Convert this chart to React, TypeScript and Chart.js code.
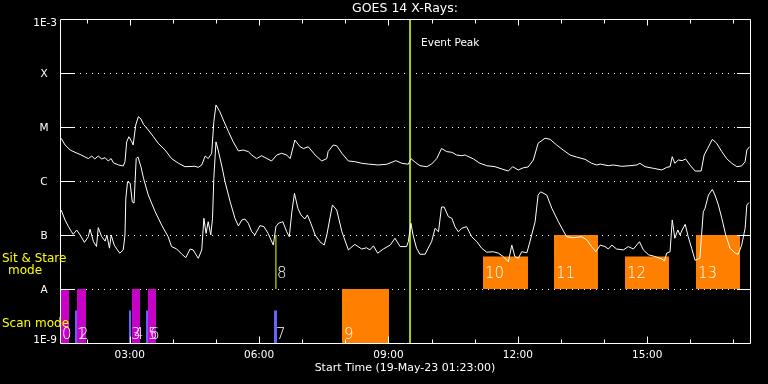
import React, { useEffect, useRef } from "react";
import { Chart, registerables } from "chart.js";

Chart.register(...registerables);

// ---------- axis definitions ----------
const START_HOUR = 1 + 23 / 60; // 01:23:00
const END_HOUR = START_HOUR + 16;
const yTickValues = [1e-9, 1e-8, 1e-7, 1e-6, 1e-5, 1e-4, 1e-3];
const yTickLabels = ["1E-9", "A", "B", "C", "M", "X", "1E-3"];
const xMajorHours = [3, 6, 9, 12, 15];
const xTickLabels = ["03:00", "06:00", "09:00", "12:00", "15:00"];
const titleText = "GOES 14 X-Rays:";
const xAxisTitle = "Start Time (19-May-23 01:23:00)";
const eventPeakHour = 9.5;
const eventPeakLabel = "Event Peak";

// ---------- GOES long channel (1-8 Å) ----------
const longTimes = [
  1.41, 1.5, 1.62, 1.73, 1.85, 1.96, 2.04, 2.12, 2.19, 2.27,
  2.35, 2.43, 2.5, 2.57, 2.62, 2.74, 2.85, 2.89, 2.93, 2.98,
  3.05, 3.08, 3.14, 3.2, 3.26, 3.32, 3.43, 3.55, 3.66, 3.82,
  3.97, 4.13, 4.28, 4.51,
  4.59, 4.67, 4.75, 4.82, 4.9, 4.95, 5.0, 5.09, 5.17, 5.29,
  5.4, 5.52, 5.63, 5.75, 5.83, 5.94, 6.06, 6.18, 6.29, 6.41,
  6.52, 6.64, 6.72, 6.83, 6.95, 7.03, 7.14, 7.3, 7.45, 7.57,
  7.6, 7.72, 7.8, 7.92, 8.07, 8.22, 8.38, 8.53, 8.76, 8.96,
  9.17, 9.31, 9.46, 9.52, 9.62, 9.73, 9.89, 10.0, 10.12, 10.23,
  10.35, 10.47, 10.58, 10.7, 10.77,
  10.81, 10.97, 11.12, 11.28, 11.47, 11.63, 11.78, 11.88, 12.01, 12.13,
  12.24, 12.36, 12.47, 12.63, 12.75, 12.9, 13.05, 13.21, 13.36, 13.56,
  13.71, 13.83, 13.91,
  14.1, 14.21, 14.41, 14.6, 14.76, 14.83, 14.95, 15.14, 15.34, 15.45,
  15.53, 15.58, 15.64, 15.72, 15.81, 15.89, 15.99, 16.11, 16.25, 16.32,
  16.4, 16.51, 16.61, 16.73, 16.84, 16.96, 17.08, 17.19, 17.27, 17.31,
  17.37,
];
const longFlux = [
  6.2e-6, 4.64e-6, 3.75e-6, 3.4e-6, 3.1e-6, 2.8e-6, 2.6e-6, 2.9e-6, 2.56e-6, 2.9e-6,
  2.56e-6, 2.7e-6, 2.35e-6, 2.6e-6, 2.18e-6, 1.98e-6, 1.9e-6, 2.28e-6, 5.3e-6, 6.6e-6,
  5.3e-6, 4.64e-6, 1.09e-5, 1.55e-5, 1.41e-5, 1.12e-5, 8.8e-6, 6.6e-6, 5.0e-6, 3.75e-6,
  2.6e-6, 2.13e-6, 1.84e-6, 1.87e-6,
  1.79e-6, 1.98e-6, 2.9e-6, 2.6e-6, 3.26e-6, 1.25e-5, 2.56e-5, 1.92e-5, 1.35e-5, 8.2e-6,
  5.3e-6, 3.6e-6, 3.75e-6, 3.5e-6, 3.03e-6, 2.6e-6, 2.94e-6, 2.6e-6, 2.35e-6, 3.03e-6,
  3.26e-6, 3.03e-6, 2.6e-6, 5.74e-6, 4.3e-6, 4.0e-6, 4.3e-6, 3.03e-6, 2.35e-6, 2.6e-6,
  3.5e-6, 4.64e-6, 4.5e-6, 3.26e-6, 2.35e-6, 2.28e-6, 2.13e-6, 2.06e-6, 1.98e-6, 2.04e-6,
  2.38e-6, 2.13e-6, 2.04e-6, 2.6e-6, 2.22e-6, 1.92e-6, 1.84e-6, 2.06e-6, 2.6e-6, 4.0e-6,
  3.5e-6, 3.4e-6, 3.03e-6, 2.94e-6, 3.03e-6,
  2.94e-6, 2.56e-6, 2.13e-6, 1.92e-6, 1.84e-6, 1.67e-6, 1.53e-6, 1.84e-6, 1.6e-6, 1.76e-6,
  1.82e-6, 2.45e-6, 5.0e-6, 6.2e-6, 5.9e-6, 4.64e-6, 3.75e-6, 3.03e-6, 2.78e-6, 2.52e-6,
  2.13e-6, 1.98e-6, 2.06e-6,
  1.92e-6, 1.98e-6, 1.87e-6, 1.92e-6, 1.98e-6, 2.13e-6, 1.84e-6, 1.72e-6, 1.6e-6, 1.79e-6,
  1.84e-6, 2.82e-6, 2.13e-6, 2.45e-6, 2.38e-6, 2.56e-6, 1.98e-6, 1.53e-6, 1.53e-6, 3.03e-6,
  4.0e-6, 5.9e-6, 5.0e-6, 3.5e-6, 2.6e-6, 2.13e-6, 1.84e-6, 1.9e-6, 2.28e-6, 3.75e-6,
  4.3e-6,
];

// ---------- GOES short channel (0.5-4 Å) ----------
const shortTimes = [
  1.41, 1.5, 1.58, 1.65, 1.69, 1.77, 1.85, 1.95, 2.04, 2.08,
  2.16, 2.23, 2.27, 2.35, 2.43, 2.47, 2.53, 2.57, 2.64, 2.7,
  2.77, 2.85, 2.89, 2.91, 2.95, 3.01, 3.06, 3.1, 3.15, 3.19,
  3.26, 3.32, 3.43, 3.59, 3.74, 3.89, 3.97, 4.09, 4.21, 4.3,
  4.4, 4.47, 4.59, 4.67, 4.72, 4.77, 4.82, 4.88, 4.92, 4.95,
  5.0, 5.05, 5.13, 5.21, 5.33, 5.44, 5.52, 5.6, 5.67, 5.75,
  5.83, 5.9, 6.02, 6.11, 6.21, 6.33, 6.39, 6.45, 6.55, 6.64,
  6.7, 6.76, 6.82, 6.9, 6.97, 7.06, 7.12, 7.2, 7.3, 7.41,
  7.51, 7.57,
  7.7, 7.8, 7.92, 8.07, 8.22, 8.38, 8.49, 8.57, 8.65, 8.75,
  8.88, 9.04, 9.15, 9.27, 9.42, 9.46, 9.52, 9.57, 9.65, 9.73,
  9.85, 9.92, 10.0, 10.08, 10.16, 10.23, 10.29, 10.39, 10.47, 10.54,
  10.62, 10.7,
  10.81, 10.93, 11.05, 11.16, 11.28, 11.43, 11.55, 11.66, 11.78, 11.86,
  11.93, 12.01, 12.09, 12.21, 12.28, 12.4, 12.47, 12.53, 12.67, 12.79,
  12.94, 13.13, 13.29, 13.48, 13.6, 13.71, 13.81, 13.91,
  14.02, 14.1, 14.18, 14.29, 14.45, 14.56, 14.68, 14.82, 14.91, 15.03,
  15.18, 15.34, 15.4, 15.45, 15.53, 15.58, 15.64, 15.71, 15.76, 15.81,
  15.88, 15.95, 16.03, 16.11, 16.22, 16.3, 16.34, 16.42, 16.51, 16.57,
  16.65, 16.73, 16.82, 16.92, 17.04, 17.11, 17.19, 17.27, 17.31, 17.36,
];
const shortFlux = [
  2.9e-7, 1.9e-7, 1.43e-7, 1.15e-7, 1.03e-7, 1.24e-7, 1.0e-7, 7.3e-8, 9.3e-8, 1.28e-7,
  7.5e-8, 6.1e-8, 1.37e-7, 9.3e-8, 7.7e-8, 1.0e-7, 5.7e-8, 1.0e-7, 6.5e-8, 5.5e-8,
  4.6e-8, 5.3e-8, 1.0e-7, 4.8e-7, 9.7e-7, 9.1e-7, 4.1e-7, 3.9e-7, 2.6e-6, 2.8e-6,
  1.84e-6, 1.12e-6, 5.5e-7, 2.7e-7, 1.53e-7, 9.3e-8, 6.1e-8, 5.5e-8, 4.4e-8, 3.8e-8,
  5.5e-8, 5.3e-8, 3.7e-8, 5.3e-8, 2.04e-7, 1.07e-7, 1.76e-7, 1.0e-7, 2.04e-7, 1.12e-6,
  5.3e-6, 3.75e-6, 1.98e-6, 9.7e-7, 4.1e-7, 2.04e-7, 1.47e-7, 1.9e-7, 1.98e-7, 1.65e-7,
  1.15e-7, 1.0e-7, 1.49e-7, 1.43e-7, 1.07e-7, 6.5e-8, 1.43e-7, 1.65e-7, 1.76e-7, 1.15e-7,
  9.3e-8, 2.7e-7, 5.9e-7, 3.1e-7, 2.35e-7, 1.98e-7, 2.35e-7, 1.65e-7, 1.0e-7, 7.5e-8,
  6.5e-8, 1.0e-7,
  3.6e-7, 2.9e-7, 1.15e-7, 5.3e-8, 6.7e-8, 5.5e-8, 5.8e-8, 5.3e-8, 6.3e-8, 4.6e-8,
  5.5e-8, 6.5e-8, 8.7e-8, 6.1e-8, 6.1e-8, 7.5e-8, 1.65e-7, 1.0e-7, 5.7e-8, 4.4e-8,
  4.4e-8, 5.7e-8, 7.5e-8, 1.33e-7, 1.15e-7, 3.3e-7, 3.3e-7, 2.18e-7, 2.04e-7, 1.43e-7,
  1.15e-7, 1.33e-7,
  1.43e-7, 9.3e-8, 7.5e-8, 5.7e-8, 4.8e-8, 4.9e-8, 4.6e-8, 4.0e-8, 3.2e-8, 6.5e-8,
  4.0e-8, 3.7e-8, 4.9e-8, 4.7e-8, 7.5e-8, 1.76e-7, 5.5e-7, 6.3e-7, 5.5e-7, 3.1e-7,
  1.76e-7, 9.3e-8, 8.9e-8, 9.3e-8, 8.1e-8, 6.1e-8, 4.9e-8, 6.5e-8,
  6.1e-8, 5.5e-8, 6.5e-8, 5.5e-8, 5.3e-8, 6.1e-8, 5.5e-8, 7.5e-8, 5.3e-8, 4.3e-8,
  4.0e-8, 3.6e-8, 3.3e-8, 4.6e-8, 4.9e-8, 1.9e-7, 8.7e-8, 1.24e-7, 1.0e-7, 1.24e-7,
  1.58e-7, 9.3e-8, 5.7e-8, 3.4e-8, 3.7e-8, 2.7e-7, 3.1e-7, 5.5e-7, 7.0e-7, 5.5e-7,
  3.6e-7, 2.04e-7, 1.0e-7, 5.7e-8, 4.6e-8, 4.4e-8, 6.5e-8, 1.33e-7, 3.6e-7, 4.0e-7,
];

// ---------- observation blocks ----------
// Scan mode blocks (drawn upward from 1E-9)
const scanIds = ["0", "1", "2", "3", "4", "5", "6", "7", "9"];
const scanStart = [1.383, 1.731, 1.777, 2.983, 3.053, 3.377, 3.424, 6.345, 7.922];
const scanEnd = [1.592, 1.777, 1.986, 3.03, 3.238, 3.424, 3.609, 6.415, 9.012];
const scanTop = [1e-8, 4e-9, 1e-8, 4e-9, 1e-8, 4e-9, 1e-8, 4e-9, 1e-8];
const scanKind = ["raster", "short", "raster", "short", "raster", "short", "raster", "short", "large"];
const scanBase = 1e-9;

// Sit & stare blocks (drawn upward from A level)
const sitIds = ["10", "11", "12", "13"];
const sitStart = [11.192, 12.838, 14.484, 16.131];
const sitEnd = [12.235, 13.858, 15.505, 17.151];
const sitTop = [4e-8, 1e-7, 4e-8, 1e-7];
const sitBase = 1e-8;
const sitLineId = "8";
const sitLineHour = 6.39;
const sitLineTop = 1e-7;

const kindColor: Record<string, string> = {
  raster: "#c800c8",
  short: "#6464ff",
  large: "#ff8000",
};
const ORANGE = "#ff8000";
const YELLOW = "#ffff00";
const PEAK_GREEN = "#a0d010";
const FONT = '"DejaVu Sans", sans-serif';

const decorPlugin = {
  id: "goesDecor",
  beforeDatasetsDraw(chart: any) {
    const { ctx, chartArea: a, scales } = chart;
    const y = scales.y;
    ctx.save();
    ctx.strokeStyle = "#ffffff";
    ctx.lineWidth = 1;
    ctx.setLineDash([1, 5]);
    yTickValues.forEach((v, i) => {
      if (i === 0 || i === yTickValues.length - 1) return;
      const py = Math.round(y.getPixelForValue(v)) + 0.5;
      ctx.beginPath();
      ctx.moveTo(a.left + 14, py);
      ctx.lineTo(a.right - 13, py);
      ctx.stroke();
    });
    ctx.restore();
  },
  afterDatasetsDraw(chart: any) {
    const { ctx, chartArea: a, scales } = chart;
    const x = scales.x;
    const y = scales.y;
    ctx.save();
    ctx.strokeStyle = "#ffffff";
    ctx.lineWidth = 1;
    ctx.setLineDash([]);
    // solid tick segments at decade lines
    yTickValues.forEach((v, i) => {
      if (i === 0 || i === yTickValues.length - 1) return;
      const py = Math.round(y.getPixelForValue(v)) + 0.5;
      ctx.beginPath();
      ctx.moveTo(a.left, py);
      ctx.lineTo(a.left + 14, py);
      ctx.moveTo(a.right - 13, py);
      ctx.lineTo(a.right, py);
      ctx.stroke();
    });
    // frame
    const L = Math.round(a.left) + 0.5;
    const R = Math.round(a.right) + 0.5;
    const T = Math.round(a.top) + 0.5;
    const B = Math.round(a.bottom) + 0.5;
    ctx.beginPath();
    ctx.moveTo(L, T);
    ctx.lineTo(R, T);
    ctx.lineTo(R, B);
    ctx.lineTo(L, B);
    ctx.closePath();
    ctx.stroke();
    // hourly ticks top and bottom
    for (let h = Math.ceil(START_HOUR); h <= Math.floor(END_HOUR); h++) {
      const major = xMajorHours.includes(h);
      const px = Math.round(x.getPixelForValue(h)) + 0.5;
      ctx.beginPath();
      ctx.moveTo(px, B);
      ctx.lineTo(px, B - (major ? 7 : 4));
      ctx.moveTo(px, T);
      ctx.lineTo(px, T + (major ? 6 : 4));
      ctx.stroke();
    }

    ctx.fillStyle = "#ffffff";
    // x tick labels
    ctx.font = `10.5px ${FONT}`;
    ctx.textAlign = "center";
    ctx.textBaseline = "middle";
    xMajorHours.forEach((h, i) => {
      ctx.fillText(xTickLabels[i], x.getPixelForValue(h), a.bottom + 12);
    });
    // x title
    ctx.font = `11px ${FONT}`;
    ctx.fillText(xAxisTitle, (a.left + a.right) / 2, a.bottom + 25);
    // title
    ctx.font = `12.5px ${FONT}`;
    ctx.fillText(titleText, (a.left + a.right) / 2, a.top - 10);

    // y labels
    ctx.font = `10.5px ${FONT}`;
    yTickValues.forEach((v, i) => {
      const py = y.getPixelForValue(v);
      const lab = yTickLabels[i];
      if (i === 0) {
        ctx.textAlign = "right";
        ctx.fillText(lab, a.left - 3, py - 3);
      } else if (i === yTickValues.length - 1) {
        ctx.textAlign = "right";
        ctx.fillText(lab, a.left - 3, py + 4);
      } else {
        ctx.textAlign = "center";
        ctx.fillText(lab, a.left - 16, py + 1);
      }
    });

    // event peak label
    ctx.textAlign = "left";
    ctx.font = `10.5px ${FONT}`;
    ctx.fillText(eventPeakLabel, x.getPixelForValue(eventPeakHour) + 11, a.top + 24);

    // mode labels
    ctx.fillStyle = YELLOW;
    ctx.font = `12px ${FONT}`;
    ctx.textAlign = "left";
    ctx.fillText("Sit & Stare", 2, 259);
    ctx.textAlign = "center";
    ctx.fillText("mode", 25, 271);
    ctx.textAlign = "left";
    ctx.fillText("Scan mode", 2, 324);

    // block id labels
    ctx.fillStyle = "#ffffff";
    ctx.font = `200 15px ${FONT}`;
    ctx.textBaseline = "alphabetic";
    ctx.textAlign = "left";
    const scanBaseline = y.getPixelForValue(scanBase) - 4;
    scanIds.forEach((id, i) => {
      ctx.fillText(id, x.getPixelForValue(scanStart[i]) + 2, scanBaseline);
    });
    const sitBaseline = y.getPixelForValue(sitBase) - 11;
    sitIds.forEach((id, i) => {
      ctx.fillText(id, x.getPixelForValue(sitStart[i]) + 2, sitBaseline);
    });
    ctx.fillText(sitLineId, x.getPixelForValue(sitLineHour) + 1, sitBaseline);
    ctx.restore();
  },
};

function blockDataset(t0: number, t1: number, top: number, base: number, color: string) {
  return {
    data: [
      { x: t0, y: top },
      { x: t1, y: top },
    ],
    borderColor: "rgba(0,0,0,0)",
    borderWidth: 0,
    backgroundColor: color,
    fill: { value: base },
    pointRadius: 0,
    order: 5,
  };
}

export default function App() {
  const canvasRef = useRef<HTMLCanvasElement | null>(null);

  useEffect(() => {
    const canvas = canvasRef.current;
    if (!canvas) return;

    const datasets: any[] = [
      {
        label: "long",
        data: longTimes.map((t, i) => ({ x: t, y: longFlux[i] })),
        borderColor: "#ffffff",
        borderWidth: 1,
        pointRadius: 0,
        fill: false,
        order: 1,
      },
      {
        label: "short",
        data: shortTimes.map((t, i) => ({ x: t, y: shortFlux[i] })),
        borderColor: "#ffffff",
        borderWidth: 1,
        pointRadius: 0,
        fill: false,
        order: 1,
      },
      {
        label: "peak",
        data: [
          { x: eventPeakHour, y: yTickValues[0] },
          { x: eventPeakHour, y: yTickValues[yTickValues.length - 1] },
        ],
        borderColor: PEAK_GREEN,
        borderWidth: 2,
        pointRadius: 0,
        fill: false,
        order: 2,
      },
      {
        label: "sitLine",
        data: [
          { x: sitLineHour, y: sitBase },
          { x: sitLineHour, y: sitLineTop },
        ],
        borderColor: YELLOW,
        borderWidth: 1,
        pointRadius: 0,
        fill: false,
        order: 3,
      },
    ];
    scanIds.forEach((_, i) => {
      datasets.push(blockDataset(scanStart[i], scanEnd[i], scanTop[i], scanBase, kindColor[scanKind[i]]));
    });
    sitIds.forEach((_, i) => {
      datasets.push(blockDataset(sitStart[i], sitEnd[i], sitTop[i], sitBase, ORANGE));
    });

    const chart = new Chart(canvas, {
      type: "line",
      data: { datasets },
      options: {
        responsive: false,
        animation: false,
        devicePixelRatio: 1,
        layout: { padding: { left: 60, right: 18, top: 19, bottom: 41 } },
        plugins: {
          legend: { display: false },
          tooltip: { enabled: false },
          title: { display: false },
        },
        elements: { line: { tension: 0 } },
        scales: {
          x: { type: "linear", min: START_HOUR, max: END_HOUR, display: false },
          y: { type: "logarithmic", min: yTickValues[0], max: yTickValues[yTickValues.length - 1], display: false },
        },
      },
      plugins: [decorPlugin],
    } as any);

    return () => chart.destroy();
  }, []);

  return (
    <div style={{ position: "absolute", left: 0, top: 0, width: 768, height: 384, background: "#000" }}>
      <canvas ref={canvasRef} width={768} height={384} style={{ display: "block" }} />
    </div>
  );
}
